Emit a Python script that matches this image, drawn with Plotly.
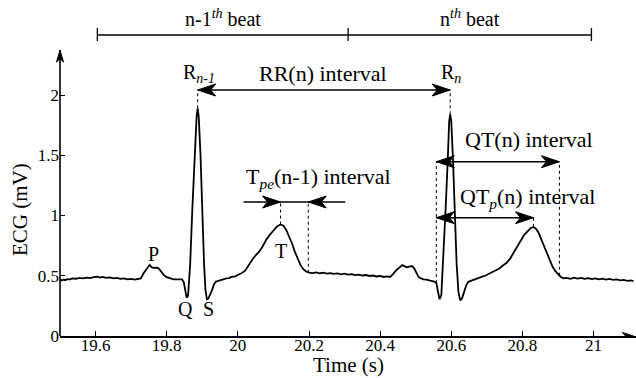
import plotly.graph_objects as go

# ---------------- data ----------------
time_s = [
    19.500, 19.505, 19.510, 19.515, 19.520, 19.528, 19.535, 19.545, 19.555, 19.565,
    19.575, 19.585, 19.595, 19.605, 19.612, 19.620, 19.630, 19.640, 19.650, 19.660,
    19.670, 19.680, 19.690, 19.700, 19.710, 19.720,
    19.727, 19.735, 19.742, 19.748, 19.752, 19.757, 19.762, 19.768, 19.773, 19.778,
    19.785, 19.792, 19.800, 19.808, 19.815, 19.822, 19.830, 19.838, 19.843,
    19.848, 19.852, 19.856, 19.860, 19.866, 19.872, 19.878, 19.884, 19.887, 19.890,
    19.895, 19.900, 19.905, 19.909, 19.913, 19.917, 19.922, 19.928, 19.933, 19.938,
    19.945, 19.952, 19.960, 19.968, 19.975, 19.982, 19.990, 20.000, 20.010, 20.020,
    20.030, 20.040, 20.050, 20.060, 20.070, 20.080, 20.090, 20.100, 20.110, 20.120,
    20.128, 20.136, 20.144, 20.152, 20.160, 20.168, 20.176, 20.184, 20.192, 20.200,
    20.210, 20.220, 20.230, 20.240, 20.250, 20.260, 20.270, 20.280, 20.290, 20.300,
    20.310, 20.320, 20.330, 20.340, 20.350, 20.360, 20.370, 20.380, 20.390, 20.400,
    20.410, 20.420, 20.428,
    20.435, 20.445, 20.455, 20.462, 20.468, 20.475, 20.482, 20.490, 20.496, 20.502,
    20.508, 20.515, 20.522, 20.530, 20.538, 20.545, 20.552, 20.558,
    20.562, 20.567, 20.572, 20.578, 20.584, 20.590, 20.594, 20.597, 20.600, 20.605,
    20.610, 20.615, 20.620, 20.625, 20.630, 20.636, 20.642, 20.648, 20.656, 20.665,
    20.675, 20.685, 20.695, 20.705, 20.715, 20.725, 20.735, 20.745, 20.755, 20.765,
    20.775, 20.785, 20.795, 20.805, 20.815, 20.823, 20.831, 20.838, 20.845, 20.852,
    20.860, 20.868, 20.876, 20.884, 20.892, 20.900, 20.908, 20.916, 20.925, 20.935,
    20.945, 20.955, 20.965, 20.975, 20.985, 20.995, 21.005, 21.015, 21.025, 21.035,
    21.045, 21.055, 21.065, 21.075, 21.085, 21.095, 21.105, 21.112,
]
ecg_mv = [
    0.470, 0.460, 0.468, 0.462, 0.472, 0.470, 0.478, 0.475, 0.482, 0.478,
    0.485, 0.480, 0.488, 0.492, 0.485, 0.490, 0.482, 0.486, 0.478, 0.482,
    0.474, 0.478, 0.470, 0.474, 0.468, 0.472,
    0.478, 0.520, 0.555, 0.575, 0.590, 0.572, 0.565, 0.570, 0.568, 0.558,
    0.532, 0.505, 0.488, 0.478, 0.475, 0.470, 0.472, 0.468, 0.470,
    0.445, 0.390, 0.318, 0.335, 0.600, 1.050, 1.500, 1.820, 1.890, 1.820,
    1.500, 1.000, 0.600, 0.380, 0.305, 0.310, 0.340, 0.385, 0.430, 0.450,
    0.458, 0.465, 0.470, 0.478, 0.480, 0.490, 0.492, 0.505, 0.520, 0.540,
    0.590, 0.630, 0.670, 0.700, 0.745, 0.800, 0.840, 0.880, 0.910, 0.925,
    0.915, 0.880, 0.830, 0.770, 0.700, 0.640, 0.590, 0.555, 0.535, 0.525,
    0.522, 0.528, 0.520, 0.525, 0.518, 0.522, 0.515, 0.520, 0.512, 0.518,
    0.510, 0.514, 0.505, 0.510, 0.502, 0.506, 0.498, 0.502, 0.494, 0.498,
    0.490, 0.494, 0.490,
    0.510, 0.545, 0.570, 0.588, 0.580, 0.570, 0.575, 0.580, 0.560, 0.520,
    0.490, 0.478, 0.470, 0.468, 0.462, 0.458, 0.452, 0.440,
    0.380, 0.305, 0.340, 0.650, 1.050, 1.450, 1.780, 1.840, 1.780, 1.450,
    1.000, 0.600, 0.370, 0.295, 0.310, 0.360, 0.420, 0.450, 0.460, 0.470,
    0.478, 0.490, 0.500, 0.515, 0.525, 0.540, 0.560, 0.585, 0.605, 0.640,
    0.690, 0.750, 0.800, 0.840, 0.870, 0.895, 0.905, 0.890, 0.860, 0.810,
    0.760, 0.690, 0.630, 0.580, 0.540, 0.512, 0.490, 0.478, 0.482, 0.475,
    0.484, 0.476, 0.482, 0.474, 0.480, 0.472, 0.478, 0.470, 0.476, 0.468,
    0.474, 0.466, 0.470, 0.462, 0.466, 0.458, 0.462, 0.455,
]

x_tick_vals = [19.6, 19.8, 20.0, 20.2, 20.4, 20.6, 20.8, 21.0]
x_tick_text = ["19.6", "19.8", "20", "20.2", "20.4", "20.6", "20.8", "21"]
y_tick_vals = [0, 0.5, 1, 1.5, 2]
y_tick_text = ["0", "0.5", "1", "1.5", "2"]

# beat boundaries (s)
beat_bounds = [19.605, 20.31, 20.994]
# fiducial points (s, mV)
r_prev = (19.887, 1.89)
r_curr = (20.597, 1.84)
t_peak_prev = (20.120, 0.925)
t_end_prev = (20.198, 0.525)
q_onset = (20.558, 0.44)
t_peak_curr = (20.831, 0.905)
t_end_curr = (20.904, 0.50)

# ---------------- figure ----------------
FONT = "'Liberation Serif', 'Times New Roman', Times, serif"
X0, X1 = 19.5, 21.1193
Y0, Y1 = 0.0, 2.747
ML, MB, PW, PH = 60, 42, 576, 331
BOTTOM_PX = 336
PX_PER_MV = PH / Y1
TXT = 22     # interval label size
TICK = 17    # tick label size


def v_of(py):
    """vertical pixel (from top) -> mV"""
    return (BOTTOM_PX - py) / PX_PER_MV


fig = go.Figure()
fig.add_trace(go.Scatter(x=time_s, y=ecg_mv, mode="lines",
                         line=dict(color="black", width=1.8), hoverinfo="skip",
                         showlegend=False))

shapes = []
annotations = []


def line(x0, y0, x1, y1, width=1.5, dash="solid", xref="x", yref="y"):
    shapes.append(dict(type="line", x0=x0, y0=y0, x1=x1, y1=y1, xref=xref, yref=yref,
                       line=dict(color="black", width=width, dash=dash)))


def head(x, y, direction, L=18, W=12, xref="x", yref="y"):
    # stealth-like arrowhead drawn in pixel units around the tip
    if direction in ("right", "left"):
        s = 1 if direction == "right" else -1
        p = "M0,0 L{a},{b} L{c},0 L{a},{d} Z".format(a=-s * L, b=W / 2, c=-s * 0.72 * L, d=-W / 2)
    else:
        s = 1 if direction == "up" else -1
        p = "M0,0 L{b},{a} L0,{c} L{d},{a} Z".format(a=-s * L, b=W / 2, c=-s * 0.72 * L, d=-W / 2)
    shapes.append(dict(type="path", path=p, xsizemode="pixel", ysizemode="pixel",
                       xanchor=x, yanchor=y, xref=xref, yref=yref,
                       fillcolor="black", line=dict(color="black", width=1)))


def text(x, y, s, size=TXT, xref="x", yref="y", angle=0):
    annotations.append(dict(x=x, y=y, xref=xref, yref=yref, text=s, showarrow=False,
                            xanchor="center", yanchor="middle", textangle=angle,
                            font=dict(family=FONT, size=size, color="black")))


# y axis with arrow (x axis line comes from the axis itself)
y_top = 2.373
line(0, 0, 0, y_top / Y1, width=1.6, xref="paper", yref="paper")
head(0, y_top / Y1, "up", L=12, W=7, xref="paper", yref="paper")
head(21.112, 0, "right", L=11, W=7)

# beat bars
bar_v, tick_lo, tick_hi = v_of(35), v_of(41), v_of(28)
line(beat_bounds[0], bar_v, beat_bounds[-1], bar_v, width=1.3)
for b in beat_bounds:
    line(b, tick_lo, b, tick_hi, width=1.3)
text((beat_bounds[0] + beat_bounds[1]) / 2, v_of(18), "n-1<i><sup>th</sup></i> beat", size=20)
text((beat_bounds[1] + beat_bounds[2]) / 2, v_of(18), "n<i><sup>th</sup></i> beat", size=20)

# RR interval
rr_v = v_of(90)
line(r_prev[0], r_prev[1], r_prev[0], rr_v, width=1, dash="dot")
line(r_curr[0], r_curr[1], r_curr[0], rr_v, width=1, dash="dot")
line(r_prev[0], rr_v, r_curr[0], rr_v)
head(r_prev[0], rr_v, "left")
head(r_curr[0], rr_v, "right")
text(r_prev[0] + 0.004, v_of(73), "R<sub><i>n-1</i></sub>", size=20)
text(r_curr[0] + 0.002, v_of(73), "R<sub><i>n</i></sub>", size=20)
text(20.24, v_of(73), "RR(n) interval")

# Tpe interval
tpe_v = v_of(202)
line(t_peak_prev[0], t_peak_prev[1], t_peak_prev[0], tpe_v, width=1, dash="dot")
line(t_end_prev[0], t_end_prev[1], t_end_prev[0], tpe_v, width=1, dash="dot")
line(20.016, tpe_v, 20.302, tpe_v)
head(t_peak_prev[0], tpe_v, "right")
head(t_end_prev[0], tpe_v, "left")
text(20.226, v_of(178), "T<sub><i>pe</i></sub>(n-1) interval")

# QT and QTp intervals
qt_v, qtp_v = v_of(161.7), v_of(217.7)
line(q_onset[0], q_onset[1], q_onset[0], qt_v, width=1, dash="dot")
line(t_end_curr[0], t_end_curr[1], t_end_curr[0], qt_v, width=1, dash="dot")
line(t_peak_curr[0], t_peak_curr[1], t_peak_curr[0], qtp_v, width=1, dash="dot")
line(q_onset[0], qt_v, t_end_curr[0], qt_v)
head(q_onset[0], qt_v, "left")
head(t_end_curr[0], qt_v, "right")
line(q_onset[0], qtp_v, t_peak_curr[0], qtp_v)
head(q_onset[0], qtp_v, "left")
head(t_peak_curr[0], qtp_v, "right")
text(20.819, v_of(139), "QT(n) interval")
text(20.813, v_of(198), "QT<sub><i>p</i></sub>(n) interval")

# wave labels
text(19.764, v_of(254), "P", size=20)
text(19.853, v_of(309), "Q", size=20)
text(19.917, v_of(309), "S", size=20)
text(20.120, v_of(251), "T", size=20)

# axis titles (positioned in pixels, converted to paper fractions)
text((348 - ML) / PW, (BOTTOM_PX - 365) / PH, "Time (s)", size=21, xref="paper", yref="paper")
text((20 - ML) / PW, (BOTTOM_PX - 210) / PH, "ECG (mV)", size=21, xref="paper", yref="paper",
     angle=-90)

fig.update_layout(
    width=636, height=378,
    margin=dict(l=ML, r=0, t=5, b=MB, autoexpand=False),
    paper_bgcolor="white", plot_bgcolor="white",
    shapes=shapes, annotations=annotations,
    font=dict(family=FONT, size=TICK, color="black"),
    xaxis=dict(range=[X0, X1], showgrid=False, zeroline=False, showline=True,
               linecolor="black", linewidth=1.6, ticks="inside", ticklen=5,
               tickcolor="black", tickwidth=1, tickvals=x_tick_vals,
               ticktext=x_tick_text, tickfont=dict(family=FONT, size=TICK),
               ticklabelstandoff=-7, automargin=False),
    yaxis=dict(range=[Y0, Y1], showgrid=False, zeroline=False, showline=False,
               ticks="inside", ticklen=5, tickcolor="black", tickwidth=1,
               tickvals=y_tick_vals, ticktext=y_tick_text,
               tickfont=dict(family=FONT, size=TICK), automargin=False),
    showlegend=False,
)

fig.write_html("out.html", config={"displayModeBar": False},
               post_script="document.body.style.margin='0';")
